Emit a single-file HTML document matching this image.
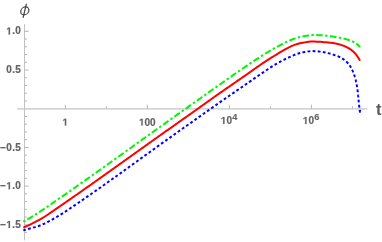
<!DOCTYPE html>
<html><head><meta charset="utf-8"><style>
html,body{margin:0;padding:0;background:#fff;}
svg{display:block;will-change:transform;font-family:"Liberation Sans",sans-serif;}
</style></head><body>
<svg width="382" height="242" viewBox="0 0 382 242">
<rect width="382" height="242" fill="#fff"/>
<line x1="17.2" y1="108.85000000000001" x2="366.9" y2="108.85000000000001" stroke="#c4c4c4" stroke-width="1.15"/>
<line x1="24.5" y1="24" x2="24.5" y2="240.4" stroke="#c2c2c2" stroke-width="1"/>
<line x1="65.30" y1="108.7" x2="65.30" y2="104.7" stroke="#b4b4b4" stroke-width="1"/>
<line x1="106.32" y1="108.7" x2="106.32" y2="106.3" stroke="#b4b4b4" stroke-width="1"/>
<line x1="147.34" y1="108.7" x2="147.34" y2="104.7" stroke="#b4b4b4" stroke-width="1"/>
<line x1="188.36" y1="108.7" x2="188.36" y2="106.3" stroke="#b4b4b4" stroke-width="1"/>
<line x1="229.38" y1="108.7" x2="229.38" y2="104.7" stroke="#b4b4b4" stroke-width="1"/>
<line x1="270.40" y1="108.7" x2="270.40" y2="106.3" stroke="#b4b4b4" stroke-width="1"/>
<line x1="311.42" y1="108.7" x2="311.42" y2="104.7" stroke="#b4b4b4" stroke-width="1"/>
<line x1="352.44" y1="108.7" x2="352.44" y2="106.3" stroke="#b4b4b4" stroke-width="1"/>
<line x1="24.5" y1="232.54" x2="26.9" y2="232.54" stroke="#b4b4b4" stroke-width="1"/>
<line x1="24.5" y1="224.80" x2="28.6" y2="224.80" stroke="#b4b4b4" stroke-width="1"/>
<line x1="24.5" y1="217.06" x2="26.9" y2="217.06" stroke="#b4b4b4" stroke-width="1"/>
<line x1="24.5" y1="209.32" x2="26.9" y2="209.32" stroke="#b4b4b4" stroke-width="1"/>
<line x1="24.5" y1="201.58" x2="26.9" y2="201.58" stroke="#b4b4b4" stroke-width="1"/>
<line x1="24.5" y1="193.84" x2="26.9" y2="193.84" stroke="#b4b4b4" stroke-width="1"/>
<line x1="24.5" y1="186.10" x2="28.6" y2="186.10" stroke="#b4b4b4" stroke-width="1"/>
<line x1="24.5" y1="178.36" x2="26.9" y2="178.36" stroke="#b4b4b4" stroke-width="1"/>
<line x1="24.5" y1="170.62" x2="26.9" y2="170.62" stroke="#b4b4b4" stroke-width="1"/>
<line x1="24.5" y1="162.88" x2="26.9" y2="162.88" stroke="#b4b4b4" stroke-width="1"/>
<line x1="24.5" y1="155.14" x2="26.9" y2="155.14" stroke="#b4b4b4" stroke-width="1"/>
<line x1="24.5" y1="147.40" x2="28.6" y2="147.40" stroke="#b4b4b4" stroke-width="1"/>
<line x1="24.5" y1="139.66" x2="26.9" y2="139.66" stroke="#b4b4b4" stroke-width="1"/>
<line x1="24.5" y1="131.92" x2="26.9" y2="131.92" stroke="#b4b4b4" stroke-width="1"/>
<line x1="24.5" y1="124.18" x2="26.9" y2="124.18" stroke="#b4b4b4" stroke-width="1"/>
<line x1="24.5" y1="116.44" x2="26.9" y2="116.44" stroke="#b4b4b4" stroke-width="1"/>
<line x1="24.5" y1="100.96" x2="26.9" y2="100.96" stroke="#b4b4b4" stroke-width="1"/>
<line x1="24.5" y1="93.22" x2="26.9" y2="93.22" stroke="#b4b4b4" stroke-width="1"/>
<line x1="24.5" y1="85.48" x2="26.9" y2="85.48" stroke="#b4b4b4" stroke-width="1"/>
<line x1="24.5" y1="77.74" x2="26.9" y2="77.74" stroke="#b4b4b4" stroke-width="1"/>
<line x1="24.5" y1="70.00" x2="28.6" y2="70.00" stroke="#b4b4b4" stroke-width="1"/>
<line x1="24.5" y1="62.26" x2="26.9" y2="62.26" stroke="#b4b4b4" stroke-width="1"/>
<line x1="24.5" y1="54.52" x2="26.9" y2="54.52" stroke="#b4b4b4" stroke-width="1"/>
<line x1="24.5" y1="46.78" x2="26.9" y2="46.78" stroke="#b4b4b4" stroke-width="1"/>
<line x1="24.5" y1="39.04" x2="26.9" y2="39.04" stroke="#b4b4b4" stroke-width="1"/>
<line x1="24.5" y1="31.30" x2="28.6" y2="31.30" stroke="#b4b4b4" stroke-width="1"/>
<path d="M478 0V1170L140 959V1180L493 1409H759V0Z" transform="translate(6.30 34.40) scale(0.00488 -0.00488)" fill="#646464" stroke="#646464" stroke-width="41.0"/><text x="12.16" y="34.40" font-size="10" font-weight="bold" fill="#646464" stroke="#646464" stroke-width="0.2">.</text><text x="15.24" y="34.40" font-size="10" font-weight="bold" fill="#646464" stroke="#646464" stroke-width="0.2">0</text>
<text x="6.30" y="73.10" font-size="10" font-weight="bold" fill="#646464" stroke="#646464" stroke-width="0.2">0</text><text x="12.16" y="73.10" font-size="10" font-weight="bold" fill="#646464" stroke="#646464" stroke-width="0.2">.</text><text x="15.24" y="73.10" font-size="10" font-weight="bold" fill="#646464" stroke="#646464" stroke-width="0.2">5</text>
<text x="0.16" y="150.50" font-size="10" font-weight="bold" fill="#646464" stroke="#646464" stroke-width="0.2">−</text><text x="6.30" y="150.50" font-size="10" font-weight="bold" fill="#646464" stroke="#646464" stroke-width="0.2">0</text><text x="12.16" y="150.50" font-size="10" font-weight="bold" fill="#646464" stroke="#646464" stroke-width="0.2">.</text><text x="15.24" y="150.50" font-size="10" font-weight="bold" fill="#646464" stroke="#646464" stroke-width="0.2">5</text>
<text x="0.16" y="189.20" font-size="10" font-weight="bold" fill="#646464" stroke="#646464" stroke-width="0.2">−</text><path d="M478 0V1170L140 959V1180L493 1409H759V0Z" transform="translate(6.30 189.20) scale(0.00488 -0.00488)" fill="#646464" stroke="#646464" stroke-width="41.0"/><text x="12.16" y="189.20" font-size="10" font-weight="bold" fill="#646464" stroke="#646464" stroke-width="0.2">.</text><text x="15.24" y="189.20" font-size="10" font-weight="bold" fill="#646464" stroke="#646464" stroke-width="0.2">0</text>
<text x="0.16" y="227.90" font-size="10" font-weight="bold" fill="#646464" stroke="#646464" stroke-width="0.2">−</text><path d="M478 0V1170L140 959V1180L493 1409H759V0Z" transform="translate(6.30 227.90) scale(0.00488 -0.00488)" fill="#646464" stroke="#646464" stroke-width="41.0"/><text x="12.16" y="227.90" font-size="10" font-weight="bold" fill="#646464" stroke="#646464" stroke-width="0.2">.</text><text x="15.24" y="227.90" font-size="10" font-weight="bold" fill="#646464" stroke="#646464" stroke-width="0.2">5</text>
<path d="M478 0V1170L140 959V1180L493 1409H759V0Z" transform="translate(62.52 125.60) scale(0.00488 -0.00488)" fill="#646464" stroke="#646464" stroke-width="41.0"/>
<path d="M478 0V1170L140 959V1180L493 1409H759V0Z" transform="translate(139.00 125.60) scale(0.00488 -0.00488)" fill="#646464" stroke="#646464" stroke-width="41.0"/><text x="144.56" y="125.60" font-size="10" font-weight="bold" fill="#646464" stroke="#646464" stroke-width="0.2">0</text><text x="150.12" y="125.60" font-size="10" font-weight="bold" fill="#646464" stroke="#646464" stroke-width="0.2">0</text>
<path d="M478 0V1170L140 959V1180L493 1409H759V0Z" transform="translate(220.78 124.00) scale(0.00488 -0.00488)" fill="#646464" stroke="#646464" stroke-width="41.0"/><text x="226.54" y="124.00" font-size="10" font-weight="bold" fill="#646464" stroke="#646464" stroke-width="0.2">0</text>
<text x="232.28" y="119.60" font-size="9.2" font-weight="bold" fill="#646464" stroke="#646464" stroke-width="0.15">4</text>
<path d="M478 0V1170L140 959V1180L493 1409H759V0Z" transform="translate(302.82 124.00) scale(0.00488 -0.00488)" fill="#646464" stroke="#646464" stroke-width="41.0"/><text x="308.58" y="124.00" font-size="10" font-weight="bold" fill="#646464" stroke="#646464" stroke-width="0.2">0</text>
<text x="314.32" y="119.60" font-size="9.2" font-weight="bold" fill="#646464" stroke="#646464" stroke-width="0.15">6</text>
<g fill="none" stroke="#484848" stroke-width="1.25" stroke-linecap="round"><ellipse cx="0" cy="0" rx="4.0" ry="3.9" transform="translate(24.8 10.9) skewX(-11)"/><line x1="26.3" y1="4.1" x2="23.2" y2="17.4"/></g>
<text x="375.9" y="114.7" font-size="16.5" font-weight="bold" fill="#5a5a5a">t</text>
<path d="M23.30,221.68 L25.23,220.62 L27.16,219.54 L29.09,218.43 L31.02,217.29 L32.94,216.11 L34.87,214.91 L36.80,213.69 L38.73,212.45 L40.66,211.19 L42.59,209.92 L44.52,208.63 L46.45,207.33 L48.38,206.02 L50.31,204.70 L52.23,203.38 L54.16,202.05 L56.09,200.71 L58.02,199.37 L59.95,198.03 L61.88,196.68 L63.81,195.34 L65.74,194.00 L67.67,192.66 L69.59,191.31 L71.52,189.96 L73.45,188.60 L75.38,187.25 L77.31,185.89 L79.24,184.53 L81.17,183.17 L83.10,181.80 L85.03,180.44 L86.95,179.07 L88.88,177.71 L90.81,176.34 L92.74,174.97 L94.67,173.60 L96.60,172.23 L98.53,170.86 L100.46,169.48 L102.39,168.11 L104.32,166.74 L106.24,165.36 L108.17,163.99 L110.10,162.61 L112.03,161.23 L113.96,159.86 L115.89,158.48 L117.82,157.10 L119.75,155.72 L121.68,154.35 L123.60,152.97 L125.53,151.59 L127.46,150.21 L129.39,148.83 L131.32,147.45 L133.25,146.07 L135.18,144.69 L137.11,143.31 L139.04,141.93 L140.96,140.55 L142.89,139.17 L144.82,137.80 L146.75,136.42 L148.68,135.04 L150.61,133.66 L152.54,132.28 L154.47,130.91 L156.40,129.53 L158.33,128.15 L160.25,126.78 L162.18,125.40 L164.11,124.02 L166.04,122.65 L167.97,121.28 L169.90,119.90 L171.83,118.53 L173.76,117.16 L175.69,115.78 L177.61,114.41 L179.54,113.04 L181.47,111.67 L183.40,110.30 L185.33,108.93 L187.26,107.56 L189.19,106.19 L191.12,104.82 L193.05,103.45 L194.97,102.08 L196.90,100.71 L198.83,99.35 L200.76,97.98 L202.69,96.61 L204.62,95.24 L206.55,93.87 L208.48,92.51 L210.41,91.14 L212.34,89.78 L214.26,88.42 L216.19,87.06 L218.12,85.70 L220.05,84.34 L221.98,82.98 L223.91,81.62 L225.84,80.27 L227.77,78.92 L229.70,77.57 L231.62,76.22 L233.55,74.88 L235.48,73.54 L237.41,72.20 L239.34,70.86 L241.27,69.53 L243.20,68.20 L245.13,66.88 L247.06,65.56 L248.98,64.25 L250.91,62.94 L252.84,61.65 L254.77,60.37 L256.70,59.11 L258.63,57.86 L260.56,56.63 L262.49,55.41 L264.42,54.20 L266.35,53.01 L268.27,51.84 L270.20,50.69 L272.13,49.57 L274.06,48.48 L275.99,47.41 L277.92,46.36 L279.85,45.32 L281.78,44.29 L283.71,43.27 L285.63,42.29 L287.56,41.39 L289.49,40.55 L291.42,39.77 L293.35,39.05 L295.28,38.40 L297.21,37.80 L299.14,37.27 L301.07,36.79 L302.99,36.36 L304.92,35.98 L306.85,35.65 L308.78,35.40 L310.71,35.22 L312.64,35.12 L314.57,35.08 L316.50,35.08 L318.43,35.13 L320.36,35.22 L322.28,35.35 L324.21,35.51 L326.14,35.70 L328.07,35.91 L330.00,36.16 L330.25,36.19 L330.50,36.22 L330.76,36.26 L331.01,36.29 L331.26,36.33 L331.51,36.36 L331.76,36.40 L332.02,36.43 L332.27,36.47 L332.52,36.51 L332.77,36.54 L333.03,36.58 L333.28,36.62 L333.53,36.66 L333.78,36.70 L334.03,36.74 L334.29,36.78 L334.54,36.82 L334.79,36.86 L335.04,36.90 L335.29,36.94 L335.55,36.98 L335.80,37.02 L336.05,37.06 L336.30,37.11 L336.55,37.15 L336.81,37.19 L337.06,37.24 L337.31,37.28 L337.56,37.33 L337.82,37.38 L338.07,37.42 L338.32,37.47 L338.57,37.52 L338.82,37.56 L339.08,37.61 L339.33,37.66 L339.58,37.71 L339.83,37.76 L340.08,37.81 L340.34,37.86 L340.59,37.91 L340.84,37.96 L341.09,38.02 L341.34,38.07 L341.60,38.12 L341.85,38.18 L342.10,38.23 L342.35,38.29 L342.61,38.35 L342.86,38.40 L343.11,38.46 L343.36,38.52 L343.61,38.58 L343.87,38.64 L344.12,38.70 L344.37,38.76 L344.62,38.82 L344.87,38.89 L345.13,38.95 L345.38,39.02 L345.63,39.08 L345.88,39.15 L346.13,39.22 L346.39,39.29 L346.64,39.36 L346.89,39.43 L347.14,39.51 L347.39,39.58 L347.65,39.66 L347.90,39.73 L348.15,39.81 L348.40,39.89 L348.66,39.97 L348.91,40.06 L349.16,40.14 L349.41,40.23 L349.66,40.32 L349.92,40.41 L350.17,40.50 L350.42,40.59 L350.67,40.69 L350.92,40.79 L351.18,40.89 L351.43,40.99 L351.68,41.10 L351.93,41.21 L352.18,41.32 L352.44,41.43 L352.69,41.55 L352.94,41.67 L353.19,41.79 L353.45,41.92 L353.70,42.05 L353.95,42.18 L354.20,42.32 L354.45,42.46 L354.71,42.61 L354.96,42.76 L355.21,42.92 L355.46,43.08 L355.71,43.24 L355.97,43.41 L356.22,43.59 L356.47,43.77 L356.72,43.96 L356.97,44.15 L357.23,44.35 L357.48,44.56 L357.73,44.78 L357.98,45.00 L358.24,45.23 L358.49,45.47 L358.74,45.71 L358.99,45.97 L359.24,46.23 L359.50,46.51 L359.75,46.79 L360.00,47.08" fill="none" stroke="#00f600" stroke-width="2" stroke-dasharray="2.4 2.4 6.6 2.4" stroke-dashoffset="0.15"/>
<path d="M23.30,227.61 L25.23,226.79 L27.16,225.93 L29.09,225.04 L31.02,224.11 L32.94,223.15 L34.87,222.16 L36.80,221.14 L38.73,220.10 L40.66,219.02 L42.59,217.92 L44.52,216.76 L46.45,215.53 L48.38,214.26 L50.31,212.95 L52.23,211.62 L54.16,210.26 L56.09,208.91 L58.02,207.57 L59.95,206.24 L61.88,204.92 L63.81,203.60 L65.74,202.27 L67.67,200.93 L69.59,199.59 L71.52,198.24 L73.45,196.89 L75.38,195.54 L77.31,194.20 L79.24,192.85 L81.17,191.50 L83.10,190.15 L85.03,188.80 L86.95,187.44 L88.88,186.08 L90.81,184.72 L92.74,183.35 L94.67,181.99 L96.60,180.62 L98.53,179.25 L100.46,177.88 L102.39,176.50 L104.32,175.13 L106.24,173.76 L108.17,172.38 L110.10,171.01 L112.03,169.63 L113.96,168.25 L115.89,166.87 L117.82,165.50 L119.75,164.12 L121.68,162.74 L123.60,161.36 L125.53,159.98 L127.46,158.60 L129.39,157.22 L131.32,155.84 L133.25,154.46 L135.18,153.09 L137.11,151.71 L139.04,150.34 L140.96,148.97 L142.89,147.60 L144.82,146.23 L146.75,144.86 L148.68,143.49 L150.61,142.12 L152.54,140.75 L154.47,139.39 L156.40,138.02 L158.33,136.65 L160.25,135.29 L162.18,133.92 L164.11,132.55 L166.04,131.19 L167.97,129.82 L169.90,128.46 L171.83,127.10 L173.76,125.74 L175.69,124.38 L177.61,123.02 L179.54,121.66 L181.47,120.29 L183.40,118.93 L185.33,117.57 L187.26,116.20 L189.19,114.84 L191.12,113.47 L193.05,112.09 L194.97,110.72 L196.90,109.35 L198.83,107.97 L200.76,106.59 L202.69,105.22 L204.62,103.84 L206.55,102.47 L208.48,101.10 L210.41,99.73 L212.34,98.36 L214.26,96.99 L216.19,95.64 L218.12,94.29 L220.05,92.94 L221.98,91.60 L223.91,90.26 L225.84,88.93 L227.77,87.60 L229.70,86.26 L231.62,84.93 L233.55,83.60 L235.48,82.27 L237.41,80.94 L239.34,79.60 L241.27,78.26 L243.20,76.91 L245.13,75.56 L247.06,74.21 L248.98,72.85 L250.91,71.49 L252.84,70.13 L254.77,68.77 L256.70,67.41 L258.63,66.06 L260.56,64.72 L262.49,63.39 L264.42,62.09 L266.35,60.83 L268.27,59.60 L270.20,58.39 L272.13,57.18 L274.06,55.98 L275.99,54.78 L277.92,53.61 L279.85,52.46 L281.78,51.32 L283.71,50.18 L285.63,49.08 L287.56,48.02 L289.49,47.04 L291.42,46.15 L293.35,45.34 L295.28,44.63 L297.21,44.01 L299.14,43.49 L301.07,43.05 L302.99,42.68 L304.92,42.37 L306.85,42.06 L308.78,41.78 L310.71,41.60 L312.64,41.55 L314.57,41.58 L316.50,41.65 L318.43,41.75 L320.36,41.86 L322.28,41.99 L324.21,42.13 L326.14,42.29 L328.07,42.47 L330.00,42.67 L330.25,42.70 L330.50,42.73 L330.76,42.76 L331.01,42.79 L331.26,42.82 L331.51,42.86 L331.76,42.89 L332.02,42.92 L332.27,42.96 L332.52,42.99 L332.77,43.03 L333.03,43.06 L333.28,43.10 L333.53,43.14 L333.78,43.17 L334.03,43.21 L334.29,43.25 L334.54,43.29 L334.79,43.34 L335.04,43.38 L335.29,43.43 L335.55,43.48 L335.80,43.53 L336.05,43.58 L336.30,43.63 L336.55,43.68 L336.81,43.74 L337.06,43.80 L337.31,43.85 L337.56,43.91 L337.82,43.98 L338.07,44.04 L338.32,44.10 L338.57,44.17 L338.82,44.24 L339.08,44.31 L339.33,44.38 L339.58,44.45 L339.83,44.52 L340.08,44.60 L340.34,44.67 L340.59,44.75 L340.84,44.83 L341.09,44.91 L341.34,45.00 L341.60,45.08 L341.85,45.17 L342.10,45.26 L342.35,45.34 L342.61,45.44 L342.86,45.53 L343.11,45.62 L343.36,45.72 L343.61,45.82 L343.87,45.92 L344.12,46.02 L344.37,46.12 L344.62,46.23 L344.87,46.34 L345.13,46.45 L345.38,46.56 L345.63,46.67 L345.88,46.79 L346.13,46.91 L346.39,47.03 L346.64,47.15 L346.89,47.28 L347.14,47.41 L347.39,47.54 L347.65,47.67 L347.90,47.80 L348.15,47.94 L348.40,48.08 L348.66,48.23 L348.91,48.38 L349.16,48.53 L349.41,48.68 L349.66,48.84 L349.92,49.00 L350.17,49.17 L350.42,49.34 L350.67,49.51 L350.92,49.69 L351.18,49.87 L351.43,50.06 L351.68,50.25 L351.93,50.45 L352.18,50.65 L352.44,50.86 L352.69,51.07 L352.94,51.29 L353.19,51.52 L353.45,51.75 L353.70,51.99 L353.95,52.23 L354.20,52.48 L354.45,52.74 L354.71,53.01 L354.96,53.28 L355.21,53.56 L355.46,53.85 L355.71,54.15 L355.97,54.45 L356.22,54.77 L356.47,55.09 L356.72,55.43 L356.97,55.77 L357.23,56.12 L357.48,56.48 L357.73,56.85 L357.98,57.24 L358.24,57.63 L358.49,58.03 L358.74,58.44 L358.99,58.86 L359.24,59.30 L359.50,59.75 L359.75,60.21 L360.00,60.68" fill="none" stroke="#ff0000" stroke-width="2"/>
<path d="M23.30,230.38 L25.23,229.83 L27.16,229.28 L29.09,228.72 L31.02,228.15 L32.94,227.66 L34.87,227.14 L36.80,226.55 L38.73,225.94 L40.66,225.26 L42.59,224.49 L44.52,223.59 L46.45,222.63 L48.38,221.63 L50.31,220.59 L52.23,219.53 L54.16,218.44 L56.09,217.32 L58.02,216.18 L59.95,215.01 L61.88,213.81 L63.81,212.58 L65.74,211.32 L67.67,210.04 L69.59,208.75 L71.52,207.44 L73.45,206.13 L75.38,204.83 L77.31,203.52 L79.24,202.21 L81.17,200.89 L83.10,199.57 L85.03,198.24 L86.95,196.91 L88.88,195.57 L90.81,194.22 L92.74,192.87 L94.67,191.52 L96.60,190.17 L98.53,188.81 L100.46,187.45 L102.39,186.09 L104.32,184.72 L106.24,183.35 L108.17,181.98 L110.10,180.61 L112.03,179.23 L113.96,177.86 L115.89,176.48 L117.82,175.09 L119.75,173.71 L121.68,172.33 L123.60,170.94 L125.53,169.55 L127.46,168.16 L129.39,166.77 L131.32,165.38 L133.25,163.99 L135.18,162.60 L137.11,161.21 L139.04,159.81 L140.96,158.42 L142.89,157.03 L144.82,155.64 L146.75,154.24 L148.68,152.85 L150.61,151.46 L152.54,150.07 L154.47,148.69 L156.40,147.30 L158.33,145.91 L160.25,144.53 L162.18,143.15 L164.11,141.76 L166.04,140.39 L167.97,139.01 L169.90,137.63 L171.83,136.26 L173.76,134.88 L175.69,133.51 L177.61,132.14 L179.54,130.77 L181.47,129.40 L183.40,128.03 L185.33,126.66 L187.26,125.30 L189.19,123.93 L191.12,122.57 L193.05,121.20 L194.97,119.84 L196.90,118.48 L198.83,117.12 L200.76,115.76 L202.69,114.39 L204.62,113.03 L206.55,111.67 L208.48,110.31 L210.41,108.96 L212.34,107.60 L214.26,106.24 L216.19,104.88 L218.12,103.52 L220.05,102.17 L221.98,100.82 L223.91,99.48 L225.84,98.14 L227.77,96.80 L229.70,95.47 L231.62,94.14 L233.55,92.81 L235.48,91.48 L237.41,90.15 L239.34,88.81 L241.27,87.48 L243.20,86.15 L245.13,84.82 L247.06,83.49 L248.98,82.15 L250.91,80.82 L252.84,79.48 L254.77,78.15 L256.70,76.83 L258.63,75.51 L260.56,74.20 L262.49,72.90 L264.42,71.59 L266.35,70.28 L268.27,68.98 L270.20,67.70 L272.13,66.46 L274.06,65.26 L275.99,64.11 L277.92,63.00 L279.85,61.94 L281.78,60.91 L283.71,59.92 L285.63,58.97 L287.56,58.04 L289.49,57.11 L291.42,56.18 L293.35,55.31 L295.28,54.52 L297.21,53.86 L299.14,53.27 L301.07,52.76 L302.99,52.33 L304.92,51.96 L306.85,51.64 L308.78,51.37 L310.71,51.19 L312.64,51.12 L314.57,51.14 L316.50,51.23 L318.43,51.39 L320.36,51.62 L322.28,51.90 L324.21,52.25 L326.14,52.66 L328.07,53.12 L330.00,53.64 L330.22,53.70 L330.44,53.77 L330.66,53.83 L330.87,53.89 L331.09,53.96 L331.31,54.02 L331.53,54.09 L331.75,54.16 L331.97,54.23 L332.18,54.30 L332.40,54.37 L332.62,54.44 L332.84,54.51 L333.06,54.58 L333.28,54.65 L333.50,54.73 L333.71,54.80 L333.93,54.88 L334.15,54.95 L334.37,55.03 L334.59,55.10 L334.81,55.18 L335.03,55.25 L335.24,55.33 L335.46,55.40 L335.68,55.47 L335.90,55.55 L336.12,55.62 L336.34,55.70 L336.55,55.78 L336.77,55.85 L336.99,55.93 L337.21,56.01 L337.43,56.09 L337.65,56.17 L337.87,56.26 L338.08,56.34 L338.30,56.43 L338.52,56.52 L338.74,56.62 L338.96,56.71 L339.18,56.81 L339.39,56.91 L339.61,57.02 L339.83,57.13 L340.05,57.24 L340.27,57.35 L340.49,57.47 L340.71,57.59 L340.92,57.71 L341.14,57.83 L341.36,57.95 L341.58,58.08 L341.80,58.21 L342.02,58.34 L342.24,58.48 L342.45,58.61 L342.67,58.75 L342.89,58.89 L343.11,59.04 L343.33,59.19 L343.55,59.34 L343.76,59.49 L343.98,59.65 L344.20,59.81 L344.42,59.98 L344.64,60.14 L344.86,60.32 L345.08,60.49 L345.29,60.67 L345.51,60.86 L345.73,61.05 L345.95,61.24 L346.17,61.44 L346.39,61.64 L346.61,61.85 L346.82,62.07 L347.04,62.29 L347.26,62.51 L347.48,62.75 L347.70,62.99 L347.92,63.23 L348.13,63.48 L348.35,63.74 L348.57,64.01 L348.79,64.28 L349.05,64.50 L349.19,64.71 L349.34,64.92 L349.48,65.14 L349.62,65.36 L349.76,65.57 L349.90,65.79 L350.04,66.01 L350.18,66.23 L350.31,66.45 L350.44,66.66 L350.57,66.88 L350.70,67.11 L350.83,67.33 L350.95,67.55 L351.08,67.77 L351.20,67.99 L351.32,68.22 L351.44,68.44 L351.56,68.66 L351.68,68.89 L351.79,69.11 L351.91,69.34 L352.02,69.57 L352.13,69.79 L352.24,70.02 L352.35,70.25 L352.46,70.48 L352.56,70.70 L352.66,70.93 L352.77,71.16 L352.87,71.39 L352.97,71.62 L353.07,71.85 L353.16,72.09 L353.26,72.32 L353.36,72.55 L353.45,72.78 L353.54,73.02 L353.63,73.25 L353.72,73.48 L353.81,73.72 L353.90,73.95 L353.98,74.19 L354.07,74.42 L354.15,74.66 L354.23,74.90 L354.31,75.13 L354.39,75.37 L354.47,75.61 L354.55,75.84 L354.63,76.08 L354.70,76.32 L354.78,76.56 L354.85,76.80 L354.92,77.04 L355.00,77.28 L355.07,77.52 L355.13,77.76 L355.20,78.00 L355.27,78.24 L355.34,78.48 L355.40,78.73 L355.47,78.97 L355.53,79.21 L355.59,79.45 L355.65,79.70 L355.71,79.94 L355.77,80.18 L355.83,80.43 L355.89,80.67 L355.95,80.92 L356.00,81.16 L356.06,81.41 L356.11,81.65 L356.16,81.90 L356.22,82.14 L356.27,82.39 L356.32,82.64 L356.37,82.88 L356.42,83.13 L356.47,83.38 L356.52,83.63 L356.56,83.87 L356.61,84.12 L356.65,84.37 L356.70,84.62 L356.74,84.87 L356.79,85.12 L356.83,85.36 L356.87,85.61 L356.91,85.86 L356.96,86.11 L357.00,86.36 L357.04,86.61 L357.08,86.86 L357.11,87.11 L357.15,87.36 L357.19,87.61 L357.23,87.86 L357.26,88.11 L357.30,88.37 L357.33,88.62 L357.37,88.87 L357.40,89.12 L357.44,89.37 L357.47,89.62 L357.50,89.87 L357.54,90.13 L357.57,90.38 L357.60,90.63 L357.63,90.88 L357.66,91.13 L357.69,91.39 L357.72,91.64 L357.75,91.89 L357.78,92.14 L357.81,92.40 L357.84,92.65 L357.87,92.90 L357.90,93.16 L357.92,93.41 L357.95,93.66 L357.98,93.92 L358.01,94.17 L358.03,94.42 L358.06,94.67 L358.09,94.93 L358.11,95.18 L358.14,95.43 L358.16,95.69 L358.19,95.94 L358.21,96.19 L358.24,96.45 L358.26,96.70 L358.29,96.95 L358.31,97.21 L358.34,97.46 L358.36,97.71 L358.39,97.97 L358.41,98.22 L358.44,98.47 L358.46,98.73 L358.49,98.98 L358.51,99.23 L358.53,99.49 L358.56,99.74 L358.58,99.99 L358.61,100.25 L358.63,100.50 L358.66,100.75 L358.68,101.00 L358.71,101.26 L358.73,101.51 L358.76,101.76 L358.78,102.01 L358.81,102.27 L358.83,102.52 L358.86,102.77 L358.88,103.02 L358.91,103.27 L358.93,103.53 L358.96,103.78 L358.98,104.03 L359.01,104.28 L359.04,104.53 L359.06,104.78 L359.09,105.03 L359.12,105.28 L359.15,105.53 L359.18,105.78 L359.20,106.03 L359.23,106.28 L359.26,106.53 L359.29,106.78 L359.32,107.03 L359.35,107.28 L359.38,107.53 L359.41,107.78 L359.44,108.03 L359.47,108.28 L359.51,108.53 L359.54,108.77 L359.57,109.02 L359.60,109.27 L359.64,109.52 L359.67,109.77 L359.71,110.01 L359.74,110.26 L359.78,110.51 L359.81,110.75 L359.85,111.00 L359.89,111.24 L359.93,111.49 L359.96,111.73 L360.00,111.98 L360.04,112.22 L360.08,112.47 L360.12,112.71 L360.16,112.96" fill="none" stroke="#0000ff" stroke-width="2" stroke-dasharray="2.8 2.32" stroke-dashoffset="0.2"/>
</svg>
</body></html>
